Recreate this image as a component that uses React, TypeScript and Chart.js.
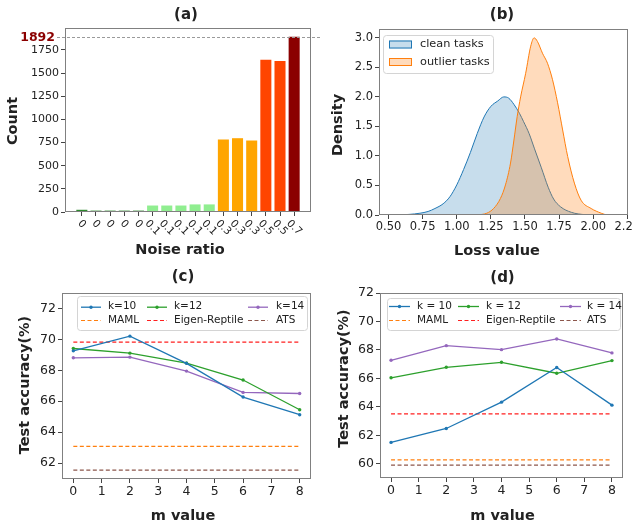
import React, { useEffect, useRef } from "react";
import { Chart, registerables } from "chart.js";

Chart.register(...registerables);

const FONT = "'DejaVu Sans', 'Liberation Sans', sans-serif";
const TEXT = "#222222";
const FRAME = "#808080";

// ---------- (a) ----------
const noiseLabels = ["0", "0", "0", "0", "0", "0.1", "0.1", "0.1", "0.1", "0.1", "0.3", "0.3", "0.3", "0.5", "0.5", "0.7"];
const taskCounts = [24, 15, 15, 15, 15, 70, 70, 70, 82, 82, 783, 797, 772, 1645, 1630, 1892];
const countTicks = [0, 250, 500, 750, 1000, 1250, 1500, 1750];
const noiseColors: Record<string, string> = {
  "0": "#2e8b2e",
  "0.1": "#90ee90",
  "0.3": "#ffa500",
  "0.5": "#ff4500",
  "0.7": "#8b0000",
};

// ---------- (b) ----------
const cleanLoss = [0.55, 0.65, 0.73, 0.79, 0.84, 0.9, 0.95, 1.0, 1.05, 1.1, 1.15, 1.2, 1.25, 1.3, 1.345, 1.38, 1.42, 1.46, 1.49, 1.53, 1.57, 1.62, 1.67, 1.71, 1.76, 1.84, 1.94, 2.0];
const cleanDensity = [0, 0.01, 0.03, 0.06, 0.11, 0.19, 0.31, 0.51, 0.77, 1.06, 1.38, 1.66, 1.84, 1.93, 2.0, 1.98, 1.87, 1.72, 1.58, 1.38, 1.12, 0.8, 0.47, 0.27, 0.14, 0.045, 0.005, 0];
const outlierLoss = [1.15, 1.22, 1.27, 1.32, 1.357, 1.394, 1.419, 1.443, 1.468, 1.505, 1.542, 1.567, 1.591, 1.628, 1.665, 1.702, 1.739, 1.776, 1.813, 1.862, 1.911, 1.985, 2.059, 2.096];
const outlierDensity = [0, 0.03, 0.11, 0.28, 0.51, 0.88, 1.27, 1.67, 2.0, 2.4, 2.86, 3.0, 2.94, 2.74, 2.57, 2.29, 1.9, 1.44, 0.99, 0.54, 0.25, 0.11, 0.03, 0];
const lossTicks = [0.5, 0.75, 1.0, 1.25, 1.5, 1.75, 2.0, 2.25];
const densityTicks = [0, 0.5, 1.0, 1.5, 2.0, 2.5, 3.0];
const kdeLabels = ["clean tasks", "outlier tasks"];

// ---------- (c) / (d) ----------
const mValues = [0, 2, 4, 6, 8];
const mTicks = [0, 1, 2, 3, 4, 5, 6, 7, 8];
const cK10 = [69.26, 70.21, 68.45, 66.27, 65.13];
const cK12 = [69.41, 69.11, 68.47, 67.37, 65.45];
const cK14 = [68.81, 68.85, 67.95, 66.57, 66.5];
const cMAML = 63.08;
const cEigen = 69.82;
const cATS = 61.55;
const cAccTicks = [62, 64, 66, 68, 70, 72];
const cSeriesLabels = ["k=10", "k=12", "k=14"];

const dK10 = [61.5, 62.48, 64.33, 66.76, 64.12];
const dK12 = [66.04, 66.78, 67.13, 66.36, 67.25];
const dK14 = [67.27, 68.3, 68.02, 68.77, 67.79];
const dMAML = 60.28;
const dEigen = 63.51;
const dATS = 59.91;
const dAccTicks = [60, 62, 64, 66, 68, 70, 72];
const dSeriesLabels = ["k = 10", "k = 12", "k = 14"];

const baselineLabels = ["MAML", "Eigen-Reptile", "ATS"];
const SERIES_COLORS = ["#1f77b4", "#2ca02c", "#9467bd"];
const BASE_COLORS = ["#ff7f0e", "#ff1f1f", "#8c564b"];

// ---------- helpers ----------
const GRID = {
  display: true,
  drawOnChartArea: false,
  drawTicks: true,
  tickLength: 4,
  tickColor: "#444",
  tickWidth: 1,
  offset: false,
};
const setTicks = (vals: number[]) => (s: any) => {
  s.ticks = vals.map((v) => ({ value: v }));
};
const fitX = (h: number) => (s: any) => {
  s.height = h;
  s.paddingLeft = 0;
  s.paddingRight = 0;
};
const fitY = (w: number) => (s: any) => {
  s.width = w;
  s.paddingTop = 0;
  s.paddingBottom = 0;
};

function drawFrame(chart: any) {
  const { ctx, chartArea: a } = chart;
  ctx.save();
  ctx.strokeStyle = FRAME;
  ctx.lineWidth = 1;
  const l = Math.round(a.left) + 0.5;
  const t = Math.round(a.top) + 0.5;
  ctx.strokeRect(l, t, Math.round(a.right) - Math.round(a.left) - 1, Math.round(a.bottom) - Math.round(a.top) - 1);
  ctx.restore();
}

function drawLabel(ctx: CanvasRenderingContext2D, text: string, x: number, y: number, size: number, rot = 0, color = TEXT, weight = "bold") {
  ctx.save();
  ctx.translate(x, y);
  ctx.rotate(rot);
  ctx.font = `${weight} ${size}px ${FONT}`;
  ctx.fillStyle = color;
  ctx.textAlign = "center";
  ctx.textBaseline = "middle";
  ctx.fillText(text, 0, 0);
  ctx.restore();
}

function legendBox(ctx: CanvasRenderingContext2D, x: number, y: number, w: number, h: number) {
  ctx.save();
  ctx.fillStyle = "rgba(255,255,255,0.85)";
  ctx.strokeStyle = "#d4d4d4";
  ctx.lineWidth = 1;
  ctx.beginPath();
  (ctx as any).roundRect(x + 0.5, y + 0.5, w, h, 3);
  ctx.fill();
  ctx.stroke();
  ctx.restore();
}

type Titles = {
  title: string; tx: number; ty: number;
  xTitle: string; xx: number; xy: number;
  yTitle: string; yx: number; yy: number;
};
function drawTitles(ctx: CanvasRenderingContext2D, t: Titles) {
  drawLabel(ctx, t.title, t.tx, t.ty, 15);
  drawLabel(ctx, t.xTitle, t.xx, t.xy, 14.5);
  drawLabel(ctx, t.yTitle, t.yx, t.yy, 14.5, -Math.PI / 2);
}

const baseOptions = (padTop: number, padRight: number) => ({
  animation: false,
  responsive: false,
  maintainAspectRatio: false,
  events: [],
  layout: { padding: { left: 0, top: padTop, right: padRight, bottom: 0 } },
  plugins: { legend: { display: false }, tooltip: { enabled: false }, title: { display: false } },
});

// ---------- chart (a) ----------
function makeA(): any {
  return {
    type: "bar",
    data: {
      datasets: [
        {
          data: noiseLabels.map((_, i) => ({ x: i, y: taskCounts[i] })),
          backgroundColor: noiseLabels.map((l) => noiseColors[l]),
          borderWidth: 0,
          barPercentage: 0.78,
          categoryPercentage: 1,
        },
      ],
    },
    options: {
      ...baseOptions(28, 11),
      scales: {
        x: {
          type: "linear",
          min: -1.19,
          max: 16.19,
          offset: false,
          afterBuildTicks: (s: any) => {
            s.ticks = noiseLabels.map((_, i) => ({ value: i }));
          },
          ticks: { display: false },
          grid: GRID,
          border: { display: false },
          afterFit: fitX(50),
        },
        y: {
          type: "linear",
          min: 0,
          max: 1987,
          afterBuildTicks: setTicks(countTicks),
          ticks: { font: { family: FONT, size: 11 }, color: TEXT, padding: 2, callback: (v: any) => String(v) },
          grid: GRID,
          border: { display: false },
          afterFit: fitY(65),
        },
      },
    },
    plugins: [
      {
        id: "decorA",
        afterDraw(chart: any) {
          const ctx = chart.ctx as CanvasRenderingContext2D;
          const a = chart.chartArea;
          const xs = chart.scales.x;
          const ys = chart.scales.y;
          // rotated category labels
          ctx.save();
          ctx.font = `10.5px ${FONT}`;
          ctx.fillStyle = TEXT;
          noiseLabels.forEach((lab, i) => {
            const px = xs.getPixelForValue(i);
            const w = ctx.measureText(lab).width;
            const half = ((w + 10.5) * Math.SQRT1_2) / 2;
            ctx.save();
            ctx.translate(px, a.bottom + 6 + half);
            ctx.rotate(Math.PI / 4);
            ctx.textAlign = "center";
            ctx.textBaseline = "middle";
            ctx.fillText(lab, 0, 0);
            ctx.restore();
          });
          ctx.restore();
          // max marker
          const maxCount = Math.max(...taskCounts);
          const yPix = Math.round(ys.getPixelForValue(maxCount)) + 0.5;
          ctx.save();
          ctx.strokeStyle = "#9a9a9a";
          ctx.lineWidth = 1;
          ctx.setLineDash([3, 2]);
          ctx.beginPath();
          ctx.moveTo(57, yPix);
          ctx.lineTo(320, yPix);
          ctx.stroke();
          ctx.restore();
          ctx.save();
          ctx.font = `bold 12.5px ${FONT}`;
          ctx.fillStyle = "#8b0000";
          ctx.textAlign = "right";
          ctx.textBaseline = "middle";
          ctx.fillText(String(maxCount), 55, yPix);
          ctx.restore();
          drawFrame(chart);
          drawTitles(ctx, {
            title: "(a)", tx: 186, ty: 15,
            xTitle: "Noise ratio", xx: 180, xy: 250,
            yTitle: "Count", yx: 13, yy: 121,
          });
        },
      },
    ],
  };
}

// ---------- chart (b) ----------
function makeB(): any {
  const fills = ["rgba(31,119,180,0.25)", "rgba(255,127,14,0.28)"];
  const lines = ["#1f77b4", "#ff7f0e"];
  return {
    type: "line",
    data: {
      datasets: [
        {
          label: kdeLabels[0],
          data: cleanLoss.map((x, i) => ({ x, y: cleanDensity[i] })),
          borderColor: lines[0],
          borderWidth: 1,
          backgroundColor: fills[0],
          fill: "origin",
          pointRadius: 0,
          cubicInterpolationMode: "monotone",
          order: 2,
        },
        {
          label: kdeLabels[1],
          data: outlierLoss.map((x, i) => ({ x, y: outlierDensity[i] })),
          borderColor: lines[1],
          borderWidth: 1,
          backgroundColor: fills[1],
          fill: "origin",
          pointRadius: 0,
          cubicInterpolationMode: "monotone",
          order: 1,
        },
      ],
    },
    options: {
      ...baseOptions(29, 34),
      scales: {
        x: {
          type: "linear",
          min: 0.43,
          max: 2.255,
          afterBuildTicks: setTicks(lossTicks),
          ticks: { font: { family: FONT, size: 11.5 }, color: TEXT, padding: 1, autoSkip: false, maxRotation: 0, callback: (v: any) => Number(v).toFixed(2) },
          grid: GRID,
          border: { display: false },
          afterFit: fitX(47),
        },
        y: {
          type: "linear",
          min: 0,
          max: 3.15,
          afterBuildTicks: setTicks(densityTicks),
          ticks: { font: { family: FONT, size: 11.5 }, color: TEXT, padding: 2, callback: (v: any) => Number(v).toFixed(1) },
          grid: GRID,
          border: { display: false },
          afterFit: fitY(57),
        },
      },
    },
    plugins: [
      {
        id: "decorB",
        afterDraw(chart: any) {
          const ctx = chart.ctx as CanvasRenderingContext2D;
          drawFrame(chart);
          legendBox(ctx, 61, 35, 110, 38);
          const rows = [44.5, 62];
          kdeLabels.forEach((lab, i) => {
            ctx.save();
            ctx.fillStyle = fills[i];
            ctx.strokeStyle = lines[i];
            ctx.lineWidth = 1;
            ctx.fillRect(67, rows[i] - 4, 23, 8);
            ctx.strokeRect(67.5, rows[i] - 3.5, 22, 7);
            ctx.font = `11.3px ${FONT}`;
            ctx.fillStyle = TEXT;
            ctx.textAlign = "left";
            ctx.textBaseline = "middle";
            ctx.fillText(lab, 98, rows[i]);
            ctx.restore();
          });
          drawTitles(ctx, {
            title: "(b)", tx: 180, ty: 15,
            xTitle: "Loss value", xx: 175, xy: 251,
            yTitle: "Density", yx: 16, yy: 125,
          });
        },
      },
    ],
  };
}

// ---------- charts (c) / (d) ----------
type LineGeo = {
  yW: number; xH: number; padTop: number; padRight: number;
  ymin: number; ymax: number; yTicks: number[];
  box: [number, number, number, number];
  rows: [number, number];
  lineX: number[]; lineLen: number; textX: number[];
  titles: Titles;
};

function makeLine(series: number[][], baselines: number[], seriesLabels: string[], g: LineGeo): any {
  const datasets: any[] = [];
  series.forEach((vals, i) => {
    datasets.push({
      label: seriesLabels[i],
      data: mValues.map((m, j) => ({ x: m, y: vals[j] })),
      borderColor: SERIES_COLORS[i],
      backgroundColor: SERIES_COLORS[i],
      borderWidth: 1.3,
      pointRadius: 1.7,
      pointBorderWidth: 0,
      tension: 0,
      fill: false,
    });
  });
  baselines.forEach((v, i) => {
    datasets.push({
      label: baselineLabels[i],
      data: mValues.map((m) => ({ x: m, y: v })),
      borderColor: BASE_COLORS[i],
      borderWidth: 1.2,
      borderDash: [4, 2.5],
      pointRadius: 0,
      tension: 0,
      fill: false,
    });
  });
  return {
    type: "line",
    data: { datasets },
    options: {
      ...baseOptions(g.padTop, g.padRight),
      scales: {
        x: {
          type: "linear",
          min: -0.4,
          max: 8.4,
          afterBuildTicks: setTicks(mTicks),
          ticks: { font: { family: FONT, size: 12.5 }, color: TEXT, padding: 1, autoSkip: false, maxRotation: 0, callback: (v: any) => String(v) },
          grid: GRID,
          border: { display: false },
          afterFit: fitX(g.xH),
        },
        y: {
          type: "linear",
          min: g.ymin,
          max: g.ymax,
          afterBuildTicks: setTicks(g.yTicks),
          ticks: { font: { family: FONT, size: 12.5 }, color: TEXT, padding: 2, callback: (v: any) => String(v) },
          grid: GRID,
          border: { display: false },
          afterFit: fitY(g.yW),
        },
      },
    },
    plugins: [
      {
        id: "decorLine",
        afterDraw(chart: any) {
          const ctx = chart.ctx as CanvasRenderingContext2D;
          drawFrame(chart);
          const [bl, bt, bw, bh] = g.box;
          legendBox(ctx, bl, bt, bw, bh);
          const items = [
            ...seriesLabels.map((lab, i) => ({ lab, color: SERIES_COLORS[i], dashed: false, row: 0, col: i })),
            ...baselineLabels.map((lab, i) => ({ lab, color: BASE_COLORS[i], dashed: true, row: 1, col: i })),
          ];
          items.forEach((it) => {
            const y = g.rows[it.row];
            const x0 = g.lineX[it.col];
            ctx.save();
            ctx.strokeStyle = it.color;
            ctx.lineWidth = it.dashed ? 1.2 : 1.3;
            if (it.dashed) ctx.setLineDash([4, 2.5]);
            ctx.beginPath();
            ctx.moveTo(x0, y + 0.5);
            ctx.lineTo(x0 + g.lineLen, y + 0.5);
            ctx.stroke();
            if (!it.dashed) {
              ctx.fillStyle = it.color;
              ctx.beginPath();
              ctx.arc(x0 + g.lineLen / 2, y + 0.5, 1.7, 0, Math.PI * 2);
              ctx.fill();
            }
            ctx.font = `10.5px ${FONT}`;
            ctx.fillStyle = TEXT;
            ctx.textAlign = "left";
            ctx.textBaseline = "middle";
            ctx.fillText(it.lab, g.textX[it.col], y);
            ctx.restore();
          });
          drawTitles(ctx, g.titles);
        },
      },
    ],
  };
}

const makeC = () =>
  makeLine([cK10, cK12, cK14], [cMAML, cEigen, cATS], cSeriesLabels, {
    yW: 62, xH: 48, padTop: 31, padRight: 11,
    ymin: 60.97, ymax: 73.0, yTicks: cAccTicks,
    box: [77, 34, 230, 34],
    rows: [44.7, 58],
    lineX: [81, 147, 248], lineLen: 20, textX: [108, 174, 276],
    titles: {
      title: "(c)", tx: 183, ty: 15,
      xTitle: "m value", xx: 183, xy: 254,
      yTitle: "Test accuracy(%)", yx: 25, yy: 123,
    },
  });

const makeD = () =>
  makeLine([dK10, dK12, dK14], [dMAML, dEigen, dATS], dSeriesLabels, {
    yW: 58, xH: 49, padTop: 31, padRight: 9,
    ymin: 59.0, ymax: 72.0, yTicks: dAccTicks,
    box: [65, 36, 233, 32],
    rows: [44, 58],
    lineX: [67, 136, 238], lineLen: 21, textX: [95, 164, 265],
    titles: {
      title: "(d)", tx: 180.5, ty: 16,
      xTitle: "m value", xx: 180.5, xy: 254,
      yTitle: "Test accuracy(%)", yx: 22.5, yy: 116.5,
    },
  });

function ChartCanvas(props: { left: number; top: number; width: number; height: number; make: () => any }) {
  const ref = useRef<HTMLCanvasElement>(null);
  useEffect(() => {
    const chart = new Chart(ref.current as HTMLCanvasElement, props.make());
    return () => chart.destroy();
  }, []);
  return (
    <canvas
      ref={ref}
      width={props.width}
      height={props.height}
      style={{ position: "absolute", left: props.left, top: props.top, width: props.width, height: props.height, display: "block" }}
    />
  );
}

export default function App() {
  return (
    <div style={{ position: "absolute", left: 0, top: 0, width: 632, height: 527, overflow: "hidden", background: "#ffffff" }}>
      <ChartCanvas left={0} top={0} width={322} height={262} make={makeA} />
      <ChartCanvas left={322} top={0} width={340} height={262} make={makeB} />
      <ChartCanvas left={0} top={262} width={322} height={265} make={makeC} />
      <ChartCanvas left={322} top={262} width={310} height={265} make={makeD} />
    </div>
  );
}
